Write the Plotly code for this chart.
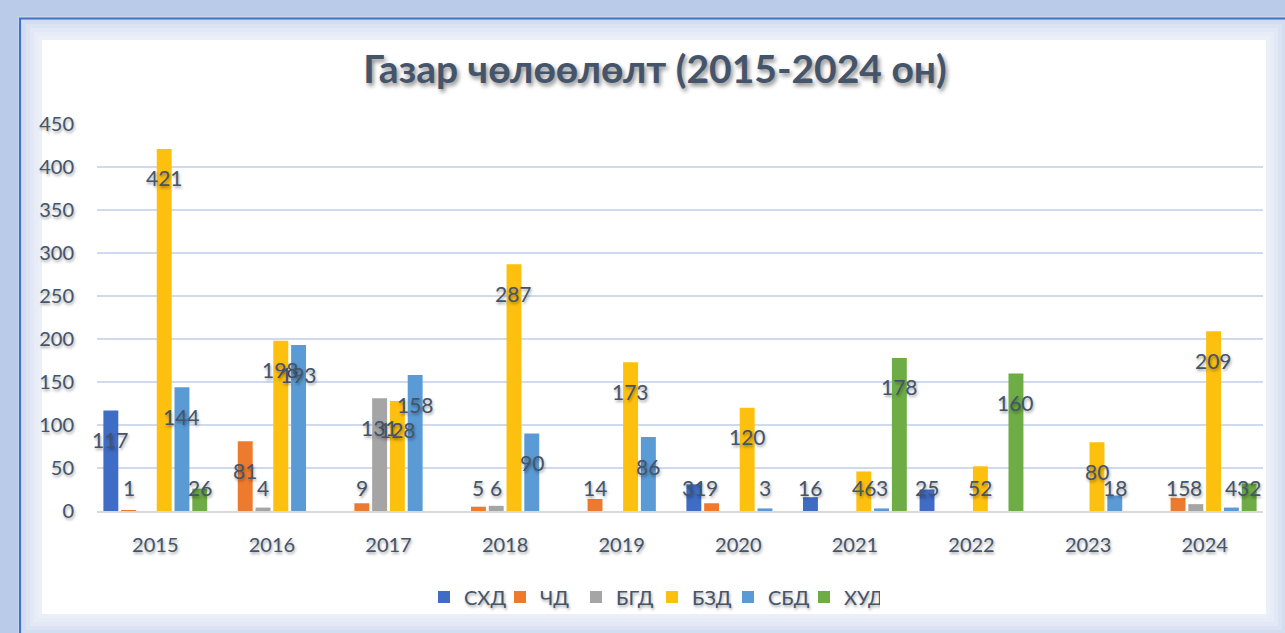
import plotly.graph_objects as go

years = ["2015", "2016", "2017", "2018", "2019", "2020", "2021", "2022", "2023", "2024"]
series_names = ["СХД", "ЧД", "БГД", "БЗД", "СБД", "ХУД"]
shd = [117, None, None, None, None, 31, 16, 25, None, None]
chd = [1, 81, 9, 5, 14, 9, None, None, None, 15]
bgd = [None, 4, 131, 6, None, None, None, None, None, 8]
bzd = [421, 198, 128, 287, 173, 120, 46, 52, 80, 209]
sbd = [144, 193, 158, 90, 86, 3, 3, None, 18, 4]
hud = [26, None, None, None, None, None, 178, 160, None, 32]
all_values = [shd, chd, bgd, bzd, sbd, hud]
colors = ["#3F6CC4", "#EE7A2E", "#A5A5A5", "#FDC00F", "#5B9BD5", "#6EAD45"]
title_text = "Газар чөлөөлөлт (2015-2024 он)"

# layout geometry (pixels)
W, H = 1285, 633
L, R, T, B = 97, 1263, 124, 511
YMAX = 450.0
pw, ph = R - L, B - T


def px(x):
    return (x - L) / pw


def py(y):
    return (B - y) / ph


TXT = "#44546A"
FONT = "Lato"
SH = "1px 2px 3px rgba(0,0,0,0.35)"

fig = go.Figure()
for name, vals, col in zip(series_names, all_values, colors):
    fig.add_trace(go.Bar(
        x=years, y=vals, name=name,
        marker=dict(color=col, line=dict(width=0)),
    ))

# data labels (Excel "inside end" style, clamped near the baseline)
unit_per_px = YMAX / ph
slot = pw / len(years) * (1 - 0.085) / len(series_names)
annotations = []
for i, vals in enumerate(all_values):
    shift = (i - (len(series_names) - 1) / 2) * slot
    for j, v in enumerate(vals):
        if v is None:
            continue
        yl = max(v - 29 * unit_per_px, 24 * unit_per_px)
        annotations.append(dict(
            x=j, y=yl, xref="x", yref="y", text=str(v), showarrow=False,
            xshift=shift, yanchor="middle", xanchor="center",
            font=dict(family=FONT, size=21, color=TXT, shadow=SH),
        ))

shapes = []
# soft white panel with glowing edges
x0, y0, x1, y1 = 42, 40, 1266, 614
for k in range(6, 0, -1):
    e = k * 4
    shapes.append(dict(type="rect", xref="paper", yref="paper",
                       x0=px(x0 - e), x1=px(x1 + e), y0=py(y1 + e), y1=py(y0 - e),
                       fillcolor="rgba(255,255,255,0.2)", line=dict(width=0), layer="below"))
shapes.append(dict(type="rect", xref="paper", yref="paper",
                   x0=px(x0), x1=px(x1), y0=py(y1), y1=py(y0),
                   fillcolor="white", line=dict(width=0), layer="below"))
# blue frame line (top and left)
shapes.append(dict(type="rect", xref="paper", yref="paper",
                   x0=px(20), x1=px(1310), y0=py(660), y1=py(18.5),
                   fillcolor="rgba(0,0,0,0)", line=dict(color="#4472C4", width=2), layer="below"))

fig.update_layout(
    width=W, height=H,
    margin=dict(l=L, r=W - R, t=T, b=H - B, pad=0),
    paper_bgcolor="#B9CBE9",
    plot_bgcolor="rgba(0,0,0,0)",
    barmode="group", bargap=0.085, bargroupgap=0.16,
    title=dict(text="<b>" + title_text + "</b>", xref="container", yref="container",
               x=655 / W, y=1 - 69 / H,
               xanchor="center", yanchor="middle",
               font=dict(family=FONT, size=39, color=TXT, shadow="2px 3px 4px rgba(0,0,0,0.45)")),
    xaxis=dict(type="category", showgrid=False, showline=True, linecolor="#D9D9D9", linewidth=2,
               tickfont=dict(family=FONT, size=20, color=TXT, shadow=SH),
               ticks="", ticklabelstandoff=15, range=[-0.5, len(years) - 0.5]),
    yaxis=dict(range=[0, YMAX], dtick=50, showgrid=True, gridcolor="#CFDAEF", gridwidth=2,
               zeroline=False, showline=False,
               tickfont=dict(family=FONT, size=20, color=TXT, shadow=SH),
               ticks="", ticklabelstandoff=22),
    legend=dict(orientation="h", x=px(652), y=py(597), xanchor="center", yanchor="middle",
                font=dict(family=FONT, size=20, color=TXT, shadow=SH),
                entrywidth=31, entrywidthmode="pixels",
                bgcolor="rgba(0,0,0,0)", traceorder="normal"),
    annotations=annotations,
    shapes=shapes,
)

fig.write_html("out.html", config={"displayModeBar": False},
               post_script="document.body.style.margin='0';document.body.style.background='#B9CBE9';")
